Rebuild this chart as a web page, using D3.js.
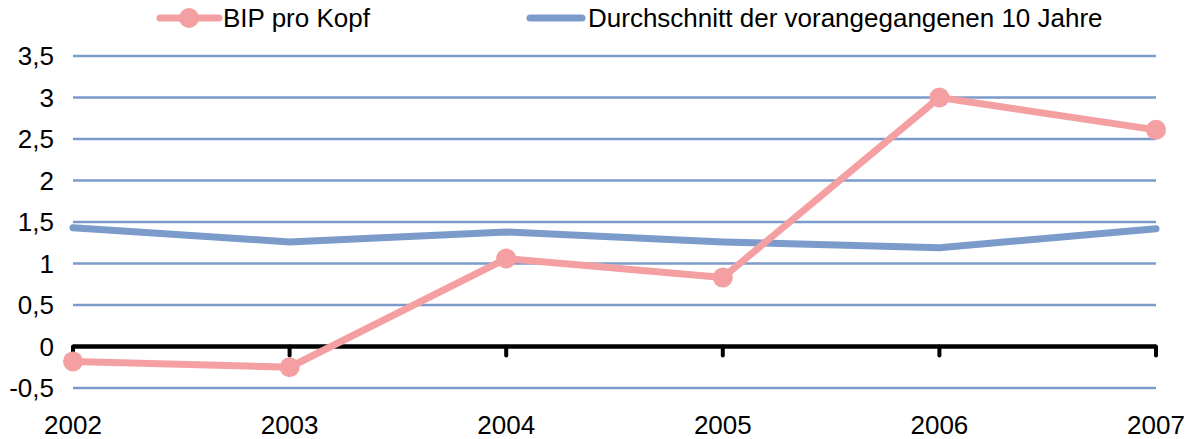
<!DOCTYPE html>
<html>
<head>
<meta charset="utf-8">
<script src="https://cdn.jsdelivr.net/npm/d3@7"></script>
<style>
  body { margin: 0; background: #fff; }
  text { font-family: "Liberation Sans", Arial, sans-serif; fill: #000; }
</style>
</head>
<body>
<div id="chart"></div>
<script>
// data
var years = ["2002", "2003", "2004", "2005", "2006", "2007"];
var bipProKopf = [-0.18, -0.25, 1.06, 0.83, 3.0, 2.61];
var durchschnitt = [1.43, 1.26, 1.38, 1.26, 1.19, 1.42];
var yTicks = [-0.5, 0, 0.5, 1, 1.5, 2, 2.5, 3, 3.5];
var seriesNames = ["BIP pro Kopf", "Durchschnitt der vorangegangenen 10 Jahre"];

var pink = "#f4a0a2";
var blue = "#7b9bcb";
var fontSize = "26px";

var W = 1190, H = 439;
var margin = {top: 56, right: 34, bottom: 51, left: 73},
    width = W - margin.left - margin.right,
    height = H - margin.top - margin.bottom;

var svg = d3.select("#chart")
  .append("svg")
    .attr("width", W)
    .attr("height", H);

var g = svg.append("g")
    .attr("transform", "translate(" + margin.left + "," + margin.top + ")");

var x = d3.scalePoint()
  .domain(years)
  .range([0, width]);

var y = d3.scaleLinear()
  .domain([-0.5, 3.5])
  .range([height, 0]);

// grid lines
g.selectAll(".grid")
  .data(yTicks.filter(function(d){ return d !== 0 }))
  .enter()
  .append("line")
    .attr("x1", 0)
    .attr("x2", width)
    .attr("y1", function(d){ return y(d) })
    .attr("y2", function(d){ return y(d) })
    .attr("stroke", blue)
    .attr("stroke-width", 2.5);

// y labels
g.selectAll(".ylab")
  .data(yTicks)
  .enter()
  .append("text")
    .attr("x", -19)
    .attr("y", function(d){ return y(d) })
    .attr("dy", "0.36em")
    .attr("text-anchor", "end")
    .style("font-size", fontSize)
    .text(function(d){ return String(d).replace(".", ",") });

// zero axis with ticks
var xAxis = g.append("g")
  .attr("transform", "translate(0," + y(0) + ")");
xAxis.append("line")
  .attr("x1", 0).attr("x2", width)
  .attr("stroke", "#000")
  .attr("stroke-width", 4.5);
xAxis.selectAll(".tick")
  .data(years)
  .enter()
  .append("line")
    .attr("x1", function(d){ return x(d) })
    .attr("x2", function(d){ return x(d) })
    .attr("y1", 0)
    .attr("y2", 9)
    .attr("stroke", "#000")
    .attr("stroke-width", 4)
    .attr("stroke-linecap", "round");

// x labels
g.selectAll(".xlab")
  .data(years)
  .enter()
  .append("text")
    .attr("x", function(d){ return x(d) })
    .attr("y", height + 46)
    .attr("text-anchor", "middle")
    .style("font-size", fontSize)
    .text(function(d){ return d });

var line = d3.line()
  .x(function(d, i){ return x(years[i]) })
  .y(function(d){ return y(d) });

// average line
g.append("path")
  .datum(durchschnitt)
  .attr("d", line)
  .attr("fill", "none")
  .attr("stroke", blue)
  .attr("stroke-width", 7)
  .attr("stroke-linecap", "round")
  .attr("stroke-linejoin", "round");

// BIP line
g.append("path")
  .datum(bipProKopf)
  .attr("d", line)
  .attr("fill", "none")
  .attr("stroke", pink)
  .attr("stroke-width", 7)
  .attr("stroke-linecap", "round")
  .attr("stroke-linejoin", "round");

g.selectAll(".dot")
  .data(bipProKopf)
  .enter()
  .append("circle")
    .attr("cx", function(d, i){ return x(years[i]) })
    .attr("cy", function(d){ return y(d) })
    .attr("r", 10)
    .attr("fill", pink);

// legend
var legend = svg.append("g");
var leg1 = legend.append("g").attr("transform", "translate(160,18)");
leg1.append("line")
  .attr("x1", 0).attr("x2", 59)
  .attr("stroke", pink).attr("stroke-width", 7).attr("stroke-linecap", "round");
leg1.append("circle").attr("cx", 29).attr("r", 10).attr("fill", pink);
leg1.append("text")
  .attr("x", 63).attr("dy", "0.36em")
  .style("font-size", fontSize)
  .text(seriesNames[0]);

var leg2 = legend.append("g").attr("transform", "translate(530,18)");
leg2.append("line")
  .attr("x1", 0).attr("x2", 52)
  .attr("stroke", blue).attr("stroke-width", 7).attr("stroke-linecap", "round");
leg2.append("text")
  .attr("x", 58).attr("dy", "0.36em")
  .style("font-size", fontSize)
  .text(seriesNames[1]);
</script>
</body>
</html>
